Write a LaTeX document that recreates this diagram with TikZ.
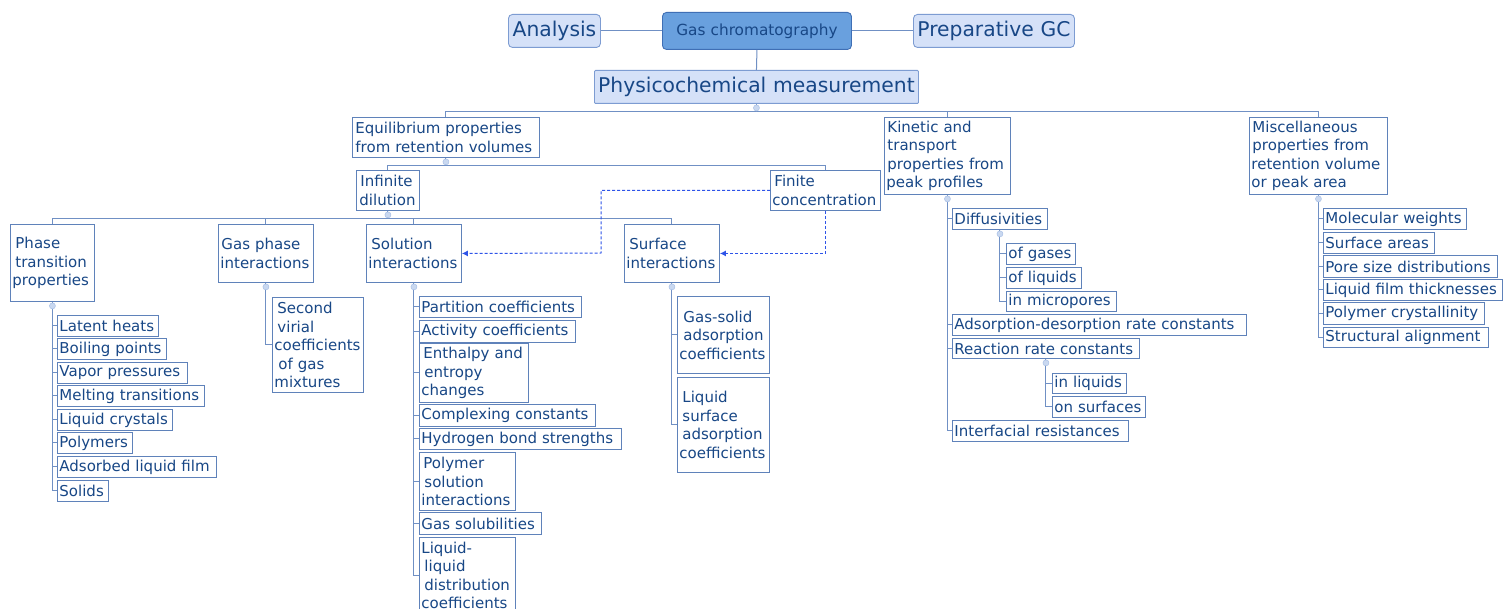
\documentclass[tikz,border=0pt]{standalone}
\usepackage{fontspec}
\setmainfont{DejaVu Sans}
\usetikzlibrary{arrows.meta}
\definecolor{txt}{HTML}{184786}
\definecolor{bord}{HTML}{5F82BA}
\definecolor{lin}{HTML}{7090C4}
\definecolor{lfill}{HTML}{D5E1F8}
\definecolor{lbord}{HTML}{7D9CD2}
\definecolor{gfill}{HTML}{69A0DE}
\definecolor{gbord}{HTML}{3F6FB5}
\definecolor{dash}{HTML}{2E54E8}
\definecolor{mkfill}{HTML}{C9D8F0}
\definecolor{mkbord}{HTML}{A9C0E6}
\newcommand\mkbox[7][box]{%
  \pgfmathsetmacro\mktw{#5-#3-4}\pgfmathsetmacro\mkh{#6-#4}%
  \node[#1,anchor=north west,text width=\mktw pt,minimum height=\mkh pt] (#2) at (#3,#4) {#7};}
\begin{document}
\begin{tikzpicture}[x=1pt,y=-1pt,
  box/.style={draw=bord,line width=0.9pt,fill=white,text=txt,inner xsep=2pt,inner ysep=0pt,
    align=left,font=\fontsize{15}{18.5}\selectfont},
  topbox/.style={draw=lbord,line width=0.9pt,fill=lfill,text=txt,inner xsep=2pt,inner ysep=0pt,
    align=center,rounded corners=4pt,font=\fontsize{20.3}{24}\selectfont},
  physbox/.style={topbox,rounded corners=1pt},
  gcbox/.style={draw=gbord,line width=0.9pt,fill=gfill,text=txt,inner xsep=2pt,inner ysep=0pt,
    align=center,rounded corners=4pt,font=\fontsize{15.3}{18}\selectfont},
  conn/.style={draw=lin,line width=1pt},
  darrow/.style={draw=dash,line width=1pt,dash pattern=on 3pt off 2pt,-{Latex[length=6pt,width=6pt]}},
  marker/.style={circle,inner sep=0pt,minimum size=6pt,fill=mkfill,draw=mkbord,line width=0.5pt}]
\useasboundingbox (0,0) rectangle (1503,609);
\fill[white] (0,0) rectangle (1503,609);

% ---- top row
\mkbox[topbox]{ana}{508}{14}{600}{47}{Analysis}
\mkbox[gcbox]{gc}{662}{12}{851}{49}{Gas chromatography}
\mkbox[topbox]{prep}{913}{14}{1074}{47}{Preparative GC}
\mkbox[physbox]{phys}{594}{70}{918}{103}{Physicochemical measurement}
\draw[conn] (ana.east) -- (gc.west);
\draw[conn] (gc.east) -- (prep.west);
\draw[conn] (gc.south) -- (phys.north);

% ---- level 1
\mkbox{equi}{352}{117}{539}{157}{\hspace{1pt}Equilibrium properties\\\hspace{1pt}from retention volumes}
\mkbox{kin}{884}{117}{1010}{194}{\hspace{1pt}Kinetic and\\\hspace{1pt}transport\\\hspace{1pt}properties from\\peak profiles}
\mkbox{misc}{1249}{117}{1387}{194}{\hspace{1pt}Miscellaneous\\\hspace{1pt}properties from\\retention volume\\or peak area}

% ---- level 2
\mkbox{inf}{356}{170}{419}{210}{\hspace{2pt}Infinite\\\hspace{1pt}dilution}
\mkbox{fin}{770}{170}{880}{210}{\hspace{2pt}Finite\\concentration}

% ---- level 3
\mkbox{phase}{10}{224}{94}{301}{\hspace{3pt}Phase\\\hspace{3pt}transition\\properties}
\mkbox{gasph}{218}{224}{313}{282}{\hspace{1pt}Gas phase\\interactions}
\mkbox{sol}{366}{224}{461}{282}{\hspace{3pt}Solution\\interactions}
\mkbox{surf}{624}{224}{719}{282}{\hspace{3pt}Surface\\interactions}

% ---- phase transition leaves
\mkbox{pa}{57}{315}{158}{336}{Latent heats}
\mkbox{pb}{57}{338}{166}{359}{Boiling points}
\mkbox{pc}{57}{362}{187}{383}{Vapor pressures}
\mkbox{pd}{57}{385}{204}{406}{Melting transitions}
\mkbox{pe}{57}{409}{172}{430}{Liquid crystals}
\mkbox{pf}{57}{432}{132}{453}{Polymers}
\mkbox{pg}{57}{456}{216}{477}{Adsorbed liquid film}
\mkbox{ph}{57}{480}{108}{501}{Solids}

% ---- gas phase leaf
\mkbox{ga}{272}{297}{363}{392}{\hspace{3pt}Second\\\hspace{3pt}virial\\coefficients\\\hspace{4pt}of gas\\mixtures}

% ---- solution leaves
\mkbox{sa}{419}{296}{581}{317}{Partition coefficients}
\mkbox{sb}{419}{320}{575}{342}{Activity coefficients}
\mkbox{sc}{419}{343}{528}{402}{\hspace{2pt}Enthalpy and\\\hspace{3pt}entropy\\changes}
\mkbox{sf}{419}{452}{515}{510}{\hspace{2pt}Polymer\\\hspace{3pt}solution\\interactions}
\mkbox{sd}{419}{404}{595}{426}{Complexing constants}
\mkbox{se}{419}{428}{621}{449}{Hydrogen bond strengths}
\mkbox{sg}{419}{512}{541}{534}{Gas solubilities}
\mkbox{sh}{419}{537}{515}{613}{Liquid-\\\hspace{3pt}liquid\\\hspace{3pt}distribution\\coefficients}

% ---- surface leaves
\mkbox{ua}{677}{296}{769}{373}{\hspace{4pt}Gas-solid\\\hspace{4pt}adsorption\\coefficients}
\mkbox{ub}{677}{377}{769}{472}{\hspace{3pt}Liquid\\\hspace{3pt}surface\\\hspace{3pt}adsorption\\coefficients}

% ---- kinetic leaves
\mkbox{ka}{952}{208}{1047}{229}{Diffusivities}
\mkbox{kaa}{1006}{243}{1075}{264}{of gases}
\mkbox{kab}{1006}{267}{1081}{288}{of liquids}
\mkbox{kac}{1006}{291}{1116}{311}{in micropores}
\mkbox{kb}{952}{314}{1246}{335}{Adsorption-desorption rate constants}
\mkbox{kc}{952}{338}{1139}{358}{Reaction rate constants}
\mkbox{kca}{1052}{373}{1126}{393}{in liquids}
\mkbox{kcb}{1052}{396}{1145}{417}{on surfaces}
\mkbox{kd}{952}{420}{1128}{441}{Interfacial resistances}

% ---- misc leaves
\mkbox{ma}{1323}{208}{1466}{229}{Molecular weights}
\mkbox{mb}{1323}{232}{1434}{253}{Surface areas}
\mkbox{mc}{1323}{255}{1497}{277}{Pore size distributions}
\mkbox{md}{1323}{279}{1502}{300}{Liquid film thicknesses}
\mkbox{me}{1323}{302}{1484}{324}{Polymer crystallinity}
\mkbox{mf}{1323}{327}{1488}{347}{Structural alignment}

% ---- tree connectors
\draw[conn] (phys.south) -- ++(0,8) coordinate (j1);
\draw[conn] (j1) -| (equi.north);
\draw[conn] (j1) -| (kin.north);
\draw[conn] (j1) -| (misc.north);

\draw[conn] (equi.south) -- ++(0,8) coordinate (j2);
\draw[conn] (j2) -| (inf.north);
\draw[conn] (j2) -| (fin.north);

\draw[conn] (inf.south) -- ++(0,8) coordinate (j3);
\draw[conn] (j3) -| (phase.north);
\draw[conn] (j3) -| (gasph.north);
\draw[conn] (j3) -| (sol.north);
\draw[conn] (j3) -| (surf.north);

\draw[conn] (phase.south) |- (ph.west);
\foreach \c in {pa,pb,pc,pd,pe,pf,pg} \draw[conn] (phase.south |- \c.west) -- (\c.west);

\draw[conn] (gasph.south) |- (ga.west);

\draw[conn] (sol.south) |- (sh.west);
\foreach \c in {sa,sb,sc,sd,se,sf,sg} \draw[conn] (sol.south |- \c.west) -- (\c.west);

\draw[conn] (surf.south) |- (ub.west);
\draw[conn] (surf.south |- ua.west) -- (ua.west);

\draw[conn] (kin.south) |- (kd.west);
\foreach \c in {ka,kb,kc} \draw[conn] (kin.south |- \c.west) -- (\c.west);
\draw[conn] (ka.south) |- (kac.west);
\foreach \c in {kaa,kab} \draw[conn] (ka.south |- \c.west) -- (\c.west);
\draw[conn] (kc.south) |- (kcb.west);
\draw[conn] (kc.south |- kca.west) -- (kca.west);

\draw[conn] (misc.south) |- (mf.west);
\foreach \c in {ma,mb,mc,md,me} \draw[conn] (misc.south |- \c.west) -- (\c.west);

% ---- collapse markers
\foreach \p in {phys,equi,inf,phase,gasph,sol,surf,kin,misc,ka,kc}
  \node[marker] at ([yshift=-4pt]\p.south) {};

% ---- dashed arrows from finite concentration
\coordinate (d1) at (601,253);
\draw[darrow] (fin.west) -| (d1) -- (sol.east);
\draw[darrow] (fin.south) |- (surf.east);
\end{tikzpicture}
\end{document}
